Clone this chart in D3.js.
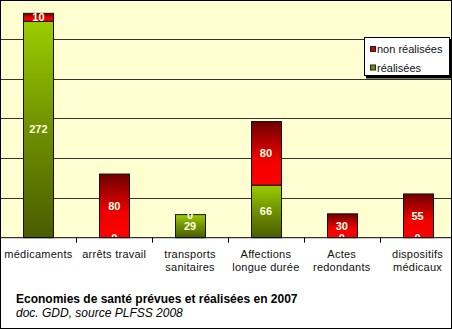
<!DOCTYPE html>
<html><head><meta charset="utf-8">
<script src="https://cdn.jsdelivr.net/npm/d3@7"></script>
<style>
html,body{margin:0;padding:0;background:#fff;}
svg{display:block;font-family:Arial,"Liberation Sans",sans-serif;}
</style></head>
<body>
<svg id="c" width="452" height="329"></svg>
<script>
const categories = [["médicaments"],["arrêts travail"],["transports","sanitaires"],["Affections","longue durée"],["Actes","redondants"],["dispositifs","médicaux"]];
const realisees = [272, 0, 29, 66, 0, 0];
const nonRealisees = [10, 80, 0, 80, 30, 55];
const seriesNames = ["non réalisées", "réalisées"];
const gridTicks = [50, 100, 150, 200, 250];
const title = "Economies de santé prévues et réalisées en 2007";
const source = "doc. GDD, source PLFSS 2008";

const W = 452, H = 329;
const plotTop = 0.5, plotBottom = 237.7;
const svg = d3.select("#c");
const defs = svg.append("defs");

const gG = defs.append("linearGradient").attr("id","gGreen").attr("x1",0).attr("y1",0).attr("x2",0).attr("y2",1);
gG.append("stop").attr("offset","0").attr("stop-color","#9acd00");
gG.append("stop").attr("offset","0.5").attr("stop-color","#6f9000");
gG.append("stop").attr("offset","1").attr("stop-color","#4a5c00");
const gR = defs.append("linearGradient").attr("id","gRed").attr("x1",0).attr("y1",0).attr("x2",0).attr("y2",1);
gR.append("stop").attr("offset","0").attr("stop-color","#6e0000");
gR.append("stop").attr("offset","0.6").attr("stop-color","#f00000");
gR.append("stop").attr("offset","1").attr("stop-color","#ff0000");

defs.append("clipPath").attr("id","plotClip").append("rect")
  .attr("x",0).attr("y",plotTop).attr("width",W).attr("height",plotBottom-plotTop);

const x = d3.scaleBand().domain(categories.map((d,i)=>i)).range([0.5, 455.5]);
const y = d3.scaleLinear().domain([0, 300]).range([plotBottom, -1]);
const bw = 30;

// plot background
svg.append("rect").attr("x",0).attr("y",plotTop).attr("width",W).attr("height",plotBottom-plotTop).attr("fill","#ffffd2");

// gridlines
svg.append("g").selectAll("line").data(gridTicks).join("line")
  .attr("x1",0).attr("x2",W)
  .attr("y1",d=>Math.round(y(d))+0.5).attr("y2",d=>Math.round(y(d))+0.5)
  .attr("stroke","#333").attr("stroke-width",1);

// bars
const data = categories.map((c,i)=>({i, g: realisees[i], r: nonRealisees[i]}));
const bars = svg.append("g");
data.forEach(d=>{
  const cx = x(d.i) + x.bandwidth()/2;
  const x0 = Math.round(cx - bw/2) + 0.5;
  if (d.g > 0) {
    bars.append("rect").attr("x",x0).attr("width",bw)
      .attr("y",y(d.g)).attr("height",y(0)-y(d.g))
      .attr("fill","url(#gGreen)").attr("stroke","#111").attr("stroke-width",1);
  }
  if (d.r > 0) {
    bars.append("rect").attr("x",x0).attr("width",bw)
      .attr("y",y(d.g+d.r)).attr("height",y(d.g)-y(d.g+d.r))
      .attr("fill","url(#gRed)").attr("stroke","#111").attr("stroke-width",1);
  }
});

// value labels (clipped to plot area)
const labels = svg.append("g").attr("clip-path","url(#plotClip)")
  .attr("font-size",11).attr("font-weight","bold").attr("fill","#ffffe4").attr("text-anchor","middle");
data.forEach(d=>{
  const cx = x(d.i) + x.bandwidth()/2;
  labels.append("text").attr("x",cx).attr("y",(y(0)+y(d.g))/2).attr("dy","0.36em").text(d.g);
  labels.append("text").attr("x",cx).attr("y",(y(d.g)+y(d.g+d.r))/2).attr("dy","0.36em").text(d.r);
});

// x axis
const xAxis = svg.append("g").attr("transform",`translate(0,${plotBottom})`);
xAxis.append("line").attr("x1",0).attr("x2",W).attr("y1",0).attr("y2",0).attr("stroke","#000").attr("stroke-width",1);
xAxis.selectAll("line.tk").data(categories.slice(1).map((c,i)=>i+1)).join("line").attr("class","tk")
  .attr("x1",d=>Math.round(x(d))+0.5).attr("x2",d=>Math.round(x(d))+0.5)
  .attr("y1",0).attr("y2",5).attr("stroke","#000");
const catLbl = svg.append("g").attr("font-size",11).attr("fill","#111").attr("text-anchor","middle").attr("letter-spacing","0.25");
categories.forEach((lines,i)=>{
  const t = catLbl.append("text").attr("x", x(i)+x.bandwidth()/2).attr("y",257.5);
  lines.forEach((l,k)=>t.append("tspan").attr("x",x(i)+x.bandwidth()/2).attr("dy",k?13.5:0).text(l));
});

// legend
const lg = svg.append("g");
lg.append("rect").attr("x",366).attr("y",39.5).attr("width",86).attr("height",39).attr("fill","#000");
lg.append("rect").attr("x",364.5).attr("y",37.5).attr("width",85).attr("height",38).attr("fill","#fff").attr("stroke","#000");
const legItems = [{n:seriesNames[0], c:"#d00000"},{n:seriesNames[1], c:"#6a9000"}];
legItems.forEach((it,k)=>{
  const yy = 49 + k*18.5;
  lg.append("rect").attr("x",370.5).attr("y",yy-2.5).attr("width",5).attr("height",5).attr("fill",it.c).attr("stroke","#222");
  lg.append("text").attr("x",377).attr("y",yy+4).attr("font-size",11).attr("fill","#111").text(it.n);
});

// titles
svg.append("text").attr("x",16).attr("y",302.5).attr("font-size",12).attr("font-weight","bold").attr("fill","#000").text(title);
svg.append("text").attr("x",16).attr("y",316.5).attr("font-size",12).attr("font-style","italic").attr("fill","#000").text(source);

// outer border
svg.append("rect").attr("x",0.5).attr("y",0.5).attr("width",W-1).attr("height",H-1).attr("fill","none").attr("stroke","#000");
</script>
</body></html>
